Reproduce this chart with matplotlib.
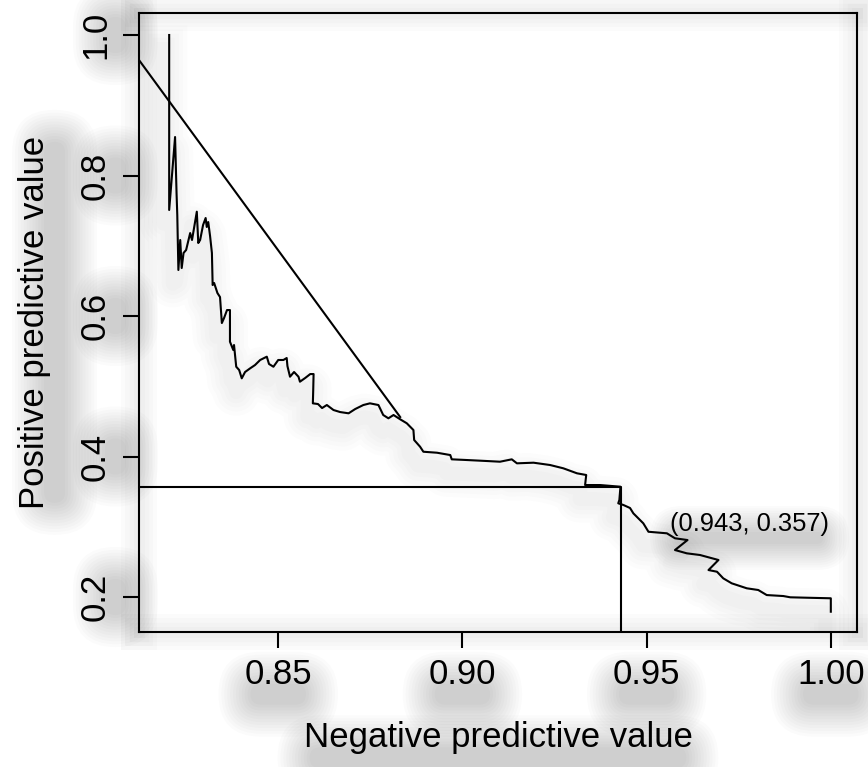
import matplotlib
matplotlib.use('Agg')
import matplotlib.pyplot as plt
import matplotlib.patheffects as pe
from matplotlib.patches import FancyBboxPatch
from matplotlib.transforms import IdentityTransform

plt.rcParams['font.family'] = ['Liberation Sans', 'DejaVu Sans']

# PPV / NPV curve
npv = [0.8204, 0.8204, 0.8220, 0.8224, 0.8226, 0.8229, 0.8234, 0.8238, 0.8243, 0.8250,
       0.8261, 0.8266, 0.8279, 0.8283, 0.8288, 0.8296, 0.8303, 0.8306, 0.8310, 0.8315,
       0.8320, 0.8322, 0.8326, 0.8335, 0.8342, 0.8347, 0.8353, 0.8361, 0.8369, 0.8369,
       0.8378, 0.8380, 0.8386, 0.8394, 0.8401, 0.8410, 0.8424, 0.8437, 0.8451, 0.8469,
       0.8475, 0.8487, 0.8500, 0.8514, 0.8523, 0.8525, 0.8532, 0.8543, 0.8555, 0.8559,
       0.8573, 0.8587, 0.8596, 0.8595, 0.8594, 0.8608, 0.8619, 0.8632, 0.8650, 0.8668,
       0.8691, 0.8709, 0.8731, 0.8749, 0.8772, 0.8785, 0.8799, 0.8813, 0.8831, 0.8849,
       0.8867, 0.8869, 0.8885, 0.8894, 0.8931, 0.8967, 0.8971, 0.9012, 0.9066, 0.9102,
       0.9134, 0.9148, 0.9193, 0.9238, 0.9274, 0.9311, 0.9336, 0.9333, 0.9374, 0.9429,
       0.9426, 0.9423, 0.9437, 0.9455, 0.9464, 0.9491, 0.9505, 0.9555, 0.9577, 0.9611,
       0.9577, 0.9609, 0.9645, 0.9695, 0.9668, 0.9691, 0.9708, 0.9731, 0.9772, 0.9803,
       0.9826, 0.9871, 0.9890, 0.9935, 1.0000, 1.0000]
ppv = [1.0000, 0.7509, 0.8548, 0.7751, 0.7438, 0.6655, 0.7082, 0.6683, 0.6897, 0.6940,
       0.7181, 0.7082, 0.7485, 0.7039, 0.7082, 0.7295, 0.7395, 0.7267, 0.7338, 0.7139,
       0.6897, 0.6441, 0.6470, 0.6327, 0.6270, 0.5900, 0.5972, 0.6085, 0.6085, 0.5634,
       0.5516, 0.5587, 0.5278, 0.5231, 0.5113, 0.5203, 0.5256, 0.5302, 0.5374, 0.5421,
       0.5317, 0.5278, 0.5374, 0.5374, 0.5402, 0.5288, 0.5136, 0.5203, 0.5136, 0.5065,
       0.5117, 0.5174, 0.5174, 0.4947, 0.4757, 0.4747, 0.4690, 0.4733, 0.4662, 0.4633,
       0.4615, 0.4676, 0.4733, 0.4757, 0.4733, 0.4591, 0.4544, 0.4591, 0.4530, 0.4473,
       0.4377, 0.4235, 0.4140, 0.4068, 0.4054, 0.4021, 0.3960, 0.3950, 0.3936, 0.3926,
       0.3960, 0.3903, 0.3912, 0.3879, 0.3832, 0.3761, 0.3737, 0.3594, 0.3594, 0.3570,
       0.3381, 0.3334, 0.3310, 0.3267, 0.3191, 0.3049, 0.2929, 0.2907, 0.2836, 0.2811,
       0.2669, 0.2622, 0.2598, 0.2527, 0.2384, 0.2360, 0.2266, 0.2195, 0.2124, 0.2100,
       0.2028, 0.2014, 0.1996, 0.1990, 0.1982, 0.1791]

# straight reference line and the chosen cut-off
ref_x = [0.8000, 0.8831]
ref_y = [1.0519, 0.4562]
cut_npv = 0.943
cut_ppv = 0.357
cut_label = '(0.943, 0.357)'

x_ticks = [0.85, 0.90, 0.95, 1.00]
x_tick_labels = ['0.85', '0.90', '0.95', '1.00']
y_ticks = [0.2, 0.4, 0.6, 0.8, 1.0]
y_tick_labels = ['0.2', '0.4', '0.6', '0.8', '1.0']


def soft_stroke(offset, start, step, layers, alpha):
    # wide translucent strokes under a line -> soft shadow
    fx = [pe.Stroke(offset=offset, linewidth=start + step * i,
                    foreground='black', alpha=alpha) for i in range(layers)]
    return fx + [pe.Normal()]


def blob(fig, bb, dx, dy, spread=26, layers=12, alpha=0.014):
    # stacked rounded boxes behind a text -> blurred drop shadow
    for i in range(layers):
        g = spread - (spread + 6) * i / (layers - 1)
        w = max(bb.width + 2 * g, 2)
        h = max(bb.height + 2 * g, 2)
        r = min(w, h) / 2
        fig.patches.append(FancyBboxPatch(
            (bb.x0 - g + dx, bb.y0 - g + dy), w, h,
            boxstyle=f'round,pad=0,rounding_size={r}', linewidth=0,
            facecolor='black', alpha=alpha, transform=IdentityTransform(),
            zorder=-5, figure=fig))


fig = plt.figure(figsize=(8.68, 7.67), dpi=100)
fig.patch.set_facecolor('white')
ax = fig.add_axes([0.1601, 0.1760, 0.8272, 0.8074])
ax.set_facecolor('none')

line_fx = soft_stroke((-4, -10), start=10, step=6, layers=5, alpha=0.012)
ax.plot(npv, ppv, color='black', lw=1.5, path_effects=line_fx)
ax.plot(ref_x, ref_y, color='black', lw=1.5)
ax.plot([0.80, cut_npv, cut_npv], [cut_ppv, cut_ppv, 0.10], color='black', lw=1.5)

note = ax.text(0.9564, 0.304, cut_label, fontsize=18.4, ha='left', va='center')

ax.set_xlim(0.8122, 1.0071)
ax.set_ylim(0.1502, 1.0317)
ax.set_xticks(x_ticks)
ax.set_xticklabels(x_tick_labels)
ax.set_yticks(y_ticks)
ax.set_yticklabels(y_tick_labels, rotation=90, va='center')
ax.tick_params(axis='both', length=11.5, width=1.5, labelsize=25, color='black')
ax.tick_params(axis='x', pad=7)
ax.tick_params(axis='y', pad=8)
for s in ax.spines.values():
    s.set_linewidth(1.5)
    s.set_path_effects(soft_stroke((0, 0), start=8, step=6, layers=4, alpha=0.015))

ax.set_xlabel('Negative predictive value', fontsize=25, labelpad=22)
ax.set_ylabel('Positive predictive value', fontsize=25, labelpad=20)

# shadows need the text boxes, so draw once first
fig.canvas.draw()
for lab in ax.get_xticklabels():
    blob(fig, lab.get_window_extent(), 0, -20)
for lab in ax.get_yticklabels():
    blob(fig, lab.get_window_extent(), 20, 0)
blob(fig, ax.xaxis.label.get_window_extent(), 0, -20)
blob(fig, ax.yaxis.label.get_window_extent(), 20, 0)
blob(fig, note.get_window_extent(), 0, -14, spread=20)

fig.savefig('out.png', dpi=100, facecolor='white')
